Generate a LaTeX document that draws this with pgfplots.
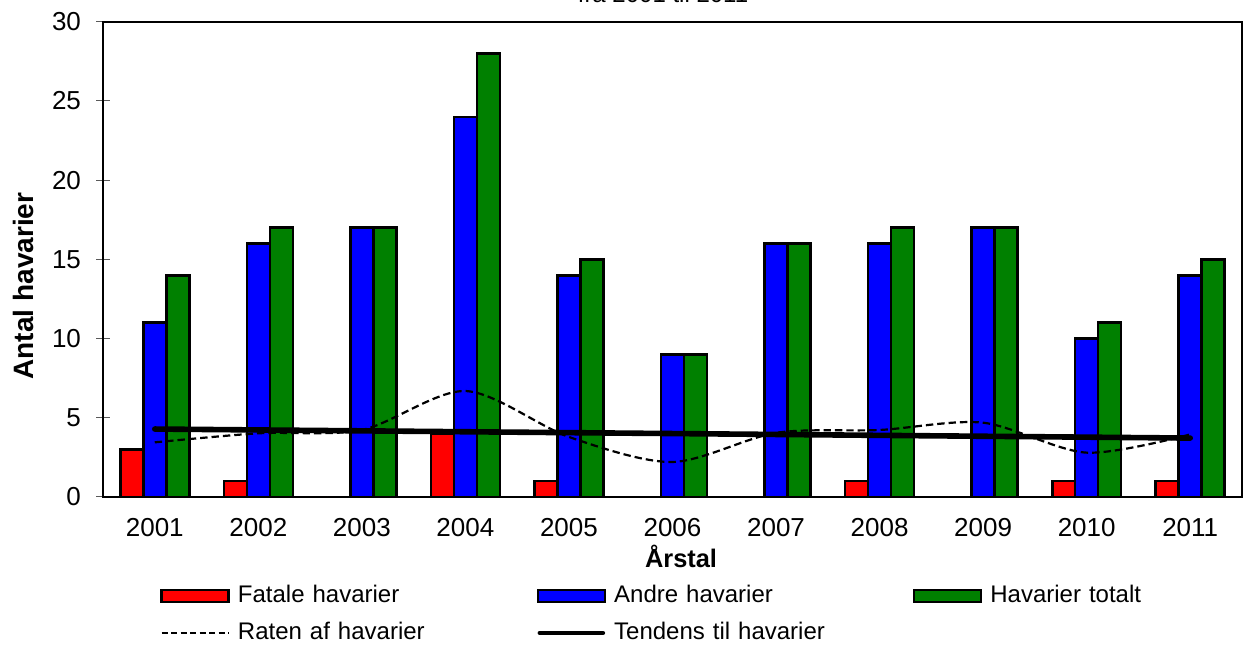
\documentclass[border=0pt]{standalone}
\usepackage{pgfplots}
\usepackage{pgfplotstable}
\pgfplotsset{compat=1.18}
\usepackage{fontspec}
\setmainfont{Liberation Sans}

\definecolor{exred}{RGB}{255,0,0}
\definecolor{exblue}{RGB}{0,0,255}
\definecolor{exgreen}{RGB}{0,128,0}

% x = 0..10 for 2001..2011
\pgfplotstableread{
x fatale andre totalt rate
0  3 11 14 3.45
1  1 16 17 4.02
2  0 17 17 4.23
3  4 24 28 6.69
4  1 14 15 3.79
5  0  9  9 2.21
6  0 16 16 4.05
7  1 16 17 4.23
8  0 17 17 4.69
9  1 10 11 2.80
10 1 14 15 3.95
}\havarier

\begin{document}
\begin{tikzpicture}
\useasboundingbox (0,0) rectangle (624.5pt,323pt);
\node[anchor=base, font=\fontsize{12}{14}\selectfont] at (331.5pt,321.5pt) {fra 2001 til 2011};
\begin{axis}[
    at={(51.5pt,74.5pt)}, anchor=south west,
    scale only axis, width=569.5pt, height=237.6pt,
    xmin=-0.5, xmax=10.5, ymin=0, ymax=30,
    xtick={0,...,10},
    xticklabels={2001,2002,2003,2004,2005,2006,2007,2008,2009,2010,2011},
    xtick style={draw=none},
    minor xtick={-0.5,0.5,...,10.5},
    ytick={0,5,...,30},
    xtick pos=bottom, ytick pos=left,
    tick align=center,
    major tick length=7pt, minor tick length=8pt,
    ytick style={gray!70!black, line width=0.5pt},
    minor x tick style={gray!70!black, line width=0.5pt},
    axis line style={line width=1.1pt},
    /pgf/number format/assume math mode=true,
    tick label style={font=\fontsize{13}{15}\selectfont},
    xticklabel style={anchor=base, yshift=-16.5pt},
    yticklabel style={xshift=-4pt},
    xlabel={Årstal}, ylabel={Antal havarier},
    every axis x label/.style={at={(axis description cs:0.5075,-0.1494)}, anchor=base, font=\fontsize{12.7}{15}\selectfont\bfseries},
    every axis y label/.style={at={(axis description cs:-0.0702,0.444)}, rotate=90, anchor=center, font=\fontsize{14}{16}\selectfont\bfseries},
    legend columns=3,
    legend style={draw=none, fill=none, inner sep=0pt,
      at={(0.05,-0.1789)}, anchor=north west,
      font=\fontsize{12}{14}\selectfont,
      nodes={text width=148.3pt, inner xsep=1pt, inner ysep=1pt, text height=9pt, text depth=2.5pt, align=left},
      /tikz/every odd column/.append style={column sep=3pt},
      /tikz/every even column/.append style={column sep=0pt},
      row sep=5pt},
]
\addplot[ybar, bar width=0.222, bar shift=-0.222, fill=exred, draw=black, line width=1.3pt,
  legend image code/.code={\draw[fill=exred, draw=black, line width=1.3pt] (0pt,-3pt) rectangle (33.5pt,3pt);}]
  table[x=x, y=fatale] {\havarier};
\addlegendentry{Fatale havarier}
\addplot[ybar, bar width=0.222, bar shift=0, fill=exblue, draw=black, line width=1.3pt,
  legend image code/.code={\draw[fill=exblue, draw=black, line width=1.3pt] (0pt,-3pt) rectangle (33.5pt,3pt);}]
  table[x=x, y=andre] {\havarier};
\addlegendentry{Andre havarier}
\addplot[ybar, bar width=0.222, bar shift=0.222, fill=exgreen, draw=black, line width=1.3pt,
  legend image code/.code={\draw[fill=exgreen, draw=black, line width=1.3pt] (0pt,-3pt) rectangle (33.5pt,3pt);}]
  table[x=x, y=totalt] {\havarier};
\addlegendentry{Havarier totalt}
\addplot[black, line width=1.1pt, dash pattern=on 3.7pt off 2pt, smooth, no markers,
  legend image code/.code={\draw[black, line width=1.1pt, dash pattern=on 3pt off 1.75pt] (0pt,0pt) -- (33.5pt,0pt);}]
  table[x=x, y=rate] {\havarier};
\addlegendentry{Raten af havarier}
\addplot[black, line width=2.8pt, line cap=round, no markers,
  legend image code/.code={\draw[black, line width=2.3pt, line cap=round] (1pt,0pt) -- (32.5pt,0pt);}]
  coordinates {(0,4.29) (10,3.72)};
\addlegendentry{Tendens til havarier}
\end{axis}
\end{tikzpicture}
\end{document}
